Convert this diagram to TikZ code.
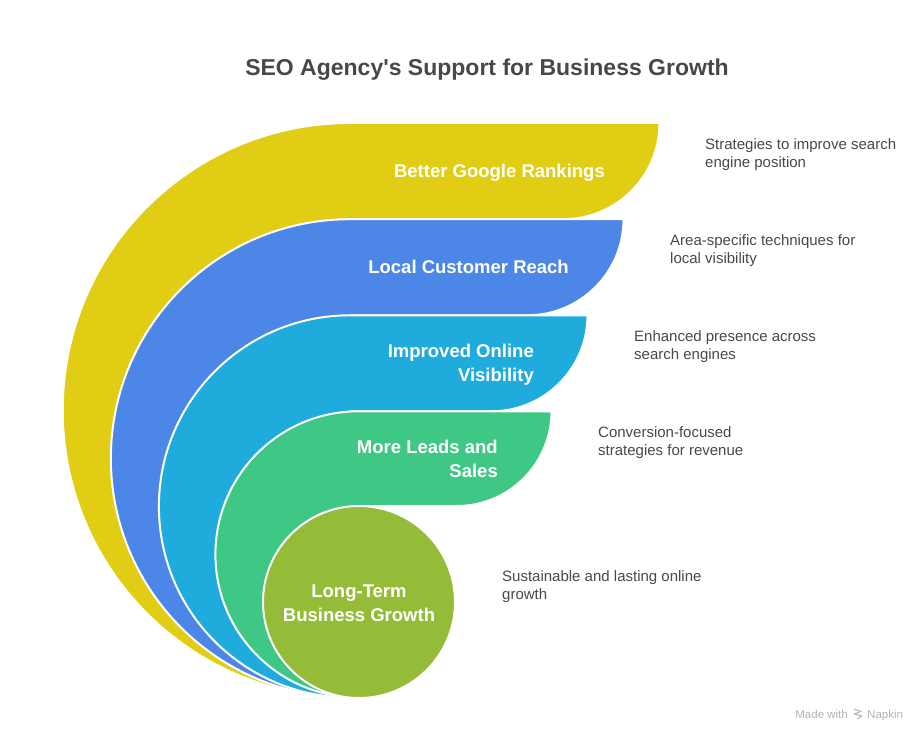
\documentclass[tikz,border=0pt]{standalone}
\usepackage{fontspec}
\setmainfont{Liberation Sans}
\definecolor{bandyellow}{HTML}{E0CD14}
\definecolor{bandblue}{HTML}{4C87E8}
\definecolor{bandcyan}{HTML}{1FABDC}
\definecolor{bandgreen}{HTML}{3EC785}
\definecolor{bandolive}{HTML}{94BC38}
\definecolor{inkgray}{HTML}{484848}
\tikzset{
	band/.style={draw=white,line width=2pt,line join=round},
	bandlabel/.style={text=white,font=\fontsize{18.5}{24}\selectfont\bfseries,align=right,anchor=east,inner sep=0pt},
	bandnote/.style={text=inkgray,font=\fontsize{15}{18}\selectfont,align=left,anchor=west,inner sep=0pt},
	logotext/.style={text=black!30,font=\fontsize{11.5}{13}\selectfont,inner sep=0pt},
}
\begin{document}
\begin{tikzpicture}[x=1pt,y=-1pt,line join=round]
	\useasboundingbox (0,0) rectangle (919,733);
	\def\ybot{697.5}
	% centre x, top y, right x, lobe radius, colour
	\foreach \cx/\ytop/\xright/\lobe/\col in {350/123/659.5/96.2/bandyellow,350/219.2/623.5/96.1/bandblue,350/315.3/587.5/96/bandcyan,358.5/411.3/551.5/94.7/bandgreen}{
		\pgfmathsetmacro{\rad}{(\ybot-\ytop)/2}
		\draw[band,fill=\col] (\cx,\ybot) arc[start angle=90,end angle=270,radius=\rad]
			-- (\xright,\ytop) arc[start angle=0,end angle=90,radius=\lobe] -- (\cx,\ytop+\lobe) -- cycle;
	}
	\node[circle,draw=white,line width=2pt,fill=bandolive,minimum size=192pt,inner sep=0pt] (core) at (359,602) {};
	\node[text=inkgray,font=\fontsize{23}{29}\selectfont\bfseries,inner sep=0pt] (title) at (487,69.5) {SEO Agency\textquotesingle s Support for Business Growth};
	\node[bandlabel] (rank) at (605,173) {Better Google Rankings};
	\node[bandlabel] (reach) at (569,267) {Local Customer Reach};
	\node[bandlabel] (visible) at (534,365) {Improved Online\\Visibility};
	\node[bandlabel] (leads) at (498,459) {More Leads and\\Sales};
	\node[text=white,font=\fontsize{18.5}{24}\selectfont\bfseries,align=center,inner sep=0pt] (growth) at (359,603) {Long-Term\\Business Growth};
	\node[bandnote] (note1) at (705,155) {Strategies to improve search\\engine position};
	\node[bandnote] (note2) at (670,251) {Area-specific techniques for\\local visibility};
	\node[bandnote] (note3) at (634,347) {Enhanced presence across\\search engines};
	\node[bandnote] (note4) at (598,443) {Conversion-focused\\strategies for revenue};
	\node[bandnote] (note5) at (502,587) {Sustainable and lasting online\\growth};
	% logo
	\node[logotext,anchor=base east] (made) at (848,718) {Made with};
	\node[logotext,anchor=base west] (napkin) at (867,718) {Napkin};
	\draw[black!30,line width=1pt] (854,709)--(861,711.5)--(854,714)--(862,716)--(857,719);
\end{tikzpicture}
\end{document}
